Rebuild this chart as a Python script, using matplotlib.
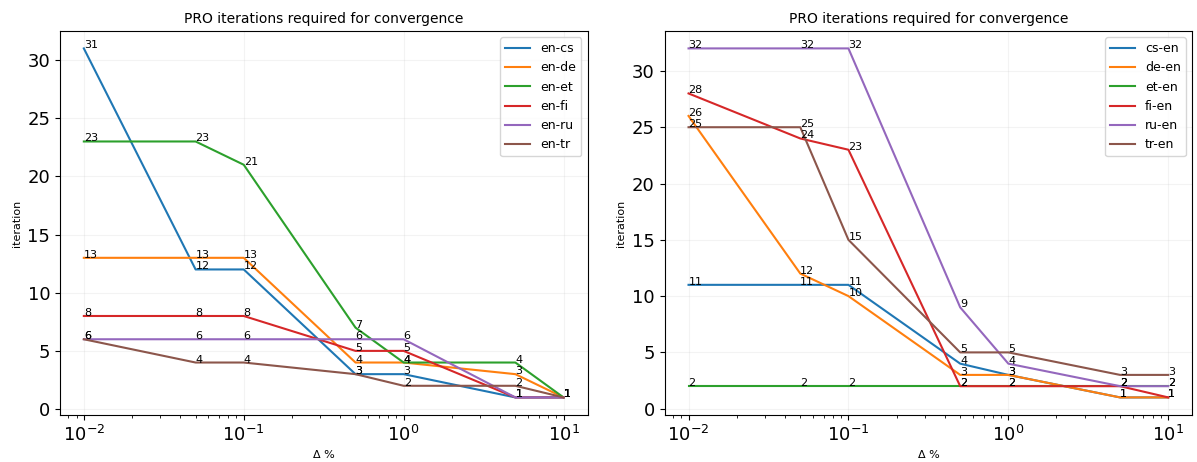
import numpy as np
import matplotlib.pyplot as plt

deltas = [0.01, 0.05, 0.1, 0.5, 1, 5, 10]

left_names = ['en-cs', 'en-de', 'en-et', 'en-fi', 'en-ru', 'en-tr']
en_cs = [31, 12, 12, 3, 3, 1, 1]
en_de = [13, 13, 13, 4, 4, 3, 1]
en_et = [23, 23, 21, 7, 4, 4, 1]
en_fi = [8, 8, 8, 5, 5, 1, 1]
en_ru = [6, 6, 6, 6, 6, 1, 1]
en_tr = [6, 4, 4, 3, 2, 2, 1]

right_names = ['cs-en', 'de-en', 'et-en', 'fi-en', 'ru-en', 'tr-en']
cs_en = [11, 11, 11, 4, 3, 1, 1]
de_en = [26, 12, 10, 3, 3, 1, 1]
et_en = [2, 2, 2, 2, 2, 2, 2]
fi_en = [28, 24, 23, 2, 2, 2, 1]
ru_en = [32, 32, 32, 9, 4, 2, 2]
tr_en = [25, 25, 15, 5, 5, 3, 3]


def draw(ax, names, series):
    for name, vals in zip(names, series):
        ax.plot(deltas, vals, label=name, lw=1.5)
        for xy in zip(deltas, vals):
            ax.annotate('%s' % xy[1], xy=xy, fontsize=8)
    ax.set_xscale('log')
    ax.set_title('PRO iterations required for convergence', fontsize=10)
    ax.set_xlabel('Δ %', fontsize=8)
    ax.set_ylabel('iteration', fontsize=8)
    ax.tick_params(axis='both', which='major', labelsize=13)
    ax.grid(True, alpha=0.15)
    ax.legend(loc='upper right', fontsize=9)


fig, (ax1, ax2) = plt.subplots(1, 2, figsize=(11.97, 4.62), dpi=100)
draw(ax1, left_names, [en_cs, en_de, en_et, en_fi, en_ru, en_tr])
draw(ax2, right_names, [cs_en, de_en, et_en, fi_en, ru_en, tr_en])
plt.subplots_adjust(left=0.050, right=0.996, top=0.933, bottom=0.102, wspace=0.146)
plt.savefig('out.png')
